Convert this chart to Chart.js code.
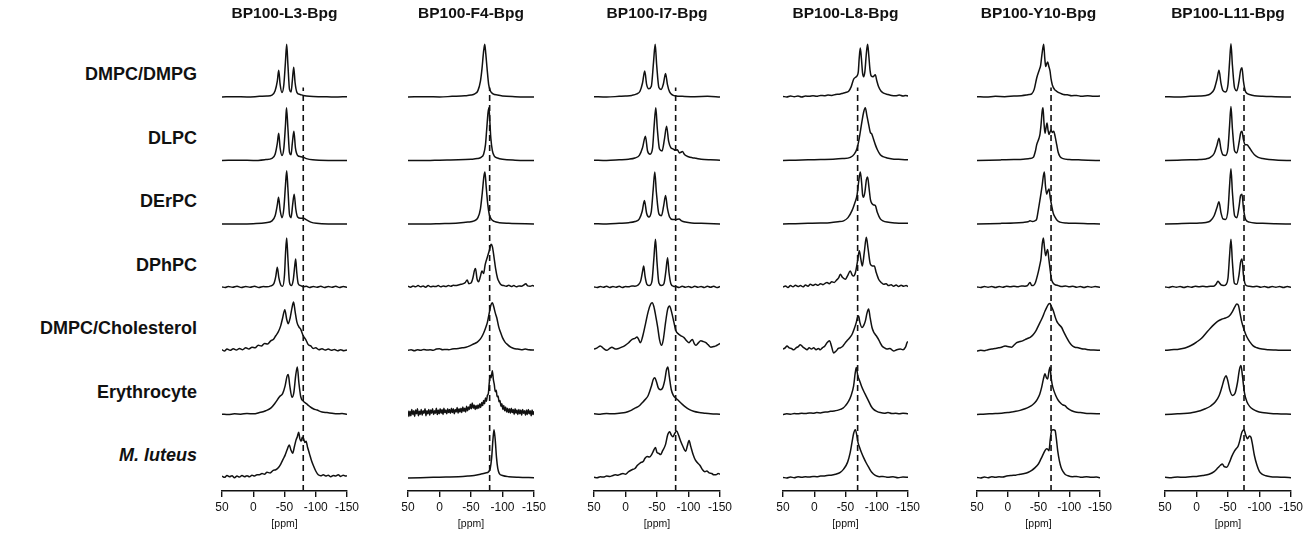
<!DOCTYPE html>
<html>
<head>
<meta charset="utf-8">
<script src="https://cdn.jsdelivr.net/npm/chart.js@4.4.1/dist/chart.umd.min.js"></script>
<style>
  body { margin: 0; background: #fff; font-family: "Liberation Sans", Arial, sans-serif; }
  #fig { position: relative; width: 1311px; height: 537px; overflow: hidden; background: #fff; }
  #fig canvas { position: absolute; top: 0; }
  .ttl { position: absolute; width: 160px; text-align: center; font-weight: bold; font-size: 15.5px; color: #111; }
  .lbl { position: absolute; right: 1114px; font-weight: bold; font-size: 18px; color: #111; white-space: nowrap; }
</style>
</head>
<body>
<div id="fig"></div>
<script>
// 패널 제목, 행 이름, 눈금
const titles = ['BP100-L3-Bpg', 'BP100-F4-Bpg', 'BP100-I7-Bpg', 'BP100-L8-Bpg', 'BP100-Y10-Bpg', 'BP100-L11-Bpg'];
const rowNames = ['DMPC/DMPG', 'DLPC', 'DErPC', 'DPhPC', 'DMPC/Cholesterol', 'Erythrocyte', 'M. luteus'];
const tickValues = [50, 0, -50, -100, -150];
// 점선 기준 위치 (ppm)
const refLine = [-80, -79.6, -79.6, -69.4, -70.4, -75.4];

// 스펙트럼: [ppm, 세기, ppm, 세기, ...] (세기 1 = 한 행 높이)
const specL3 = [
  [50,0, 30,0.005, 10,0, -10,0.01, -22,0.015, -30,0.03, -35,0.1, -38.5,0.25, -40.7,0.42, -43,0.2, -46,0.07, -49,0.2, -51.5,0.55, -53.5,0.83, -55.5,0.5, -58,0.12, -60.5,0.08, -62.5,0.25, -64.7,0.47, -67,0.22, -70,0.07, -75,0.04, -80,0.025, -90,0.01, -110,0.005, -130,0, -150,0.005],
  [50,0, 20,0.005, 0,0, -20,0.015, -30,0.035, -35,0.1, -38.5,0.27, -40.7,0.43, -43,0.2, -46,0.08, -49,0.2, -51.5,0.55, -53.2,0.83, -55.5,0.5, -58,0.13, -60.5,0.09, -62.5,0.27, -65,0.46, -67.5,0.2, -71,0.08, -76,0.06, -80,0.05, -85,0.03, -95,0.01, -120,0, -150,0],
  [50,0, 20,0, 0,0.005, -20,0.02, -30,0.05, -35,0.13, -38.5,0.3, -40.5,0.42, -43,0.22, -46,0.1, -49,0.25, -51.5,0.6, -53.5,0.84, -55.5,0.55, -58,0.15, -60.5,0.1, -63,0.3, -65.5,0.47, -68,0.24, -71,0.11, -76,0.09, -80,0.09, -86,0.06, -92,0.03, -101,0.01, -120,0, -150,0],
  [50,0.01, 45,0, 40,0.015, 33,0.005, 26,0.02, 19,0, 12,0.015, 5,0.005, -2,0.02, -9,0, -16,0.015, -22,0.01, -28,0.025, -33,0.06, -36,0.17, -38.5,0.32, -41,0.15, -44,0.04, -47,0.02, -50,0.2, -51.7,0.55, -53.5,0.78, -55.5,0.45, -58,0.08, -61,0.03, -64,0.12, -66.5,0.35, -67.9,0.45, -69.5,0.25, -72,0.06, -76,0.03, -80,0.01, -85,0.02, -90,0, -96,0.015, -102,0.005, -108,0.02, -114,0, -120,0.015, -126,0.005, -132,0.02, -138,0, -144,0.015, -150,0.005],
  [50,0.02, 46,0, 42,0.03, 37,0.01, 32,0.035, 27,0.015, 22,0.04, 17,0.02, 12,0.05, 7,0.03, 2,0.06, -3,0.05, -8,0.09, -13,0.08, -18,0.12, -23,0.11, -28,0.16, -32,0.18, -36,0.24, -40,0.3, -44,0.4, -47,0.52, -50.5,0.65, -53.5,0.5, -56,0.43, -59,0.52, -62,0.68, -64.5,0.77, -67,0.62, -70,0.45, -73,0.38, -76,0.34, -80,0.24, -84,0.18, -88,0.1, -92,0.08, -96,0.04, -100,0.05, -105,0.02, -110,0.035, -115,0.015, -120,0.03, -125,0.01, -130,0.025, -135,0.005, -140,0.02, -145,0.005, -150,0.015],
  [50,0.005, 40,0, 30,0.01, 20,0.005, 10,0.015, 0,0.01, -10,0.03, -20,0.06, -28,0.1, -35,0.18, -42,0.28, -47,0.33, -51,0.45, -54,0.6, -56,0.63, -58.5,0.45, -62,0.27, -65,0.35, -68,0.62, -70.5,0.75, -73,0.5, -76,0.28, -80,0.21, -85,0.17, -90,0.13, -96,0.09, -102,0.07, -110,0.04, -118,0.03, -126,0.02, -134,0.01, -142,0.015, -150,0.005],
  [50,0.03, 46,0.01, 42,0.04, 38,0.02, 34,0.035, 30,0.005, 26,0.03, 22,0.015, 18,0.04, 14,0.02, 10,0.035, 6,0.02, 2,0.045, -2,0.03, -6,0.05, -10,0.05, -14,0.07, -18,0.06, -22,0.09, -27,0.08, -32,0.12, -36,0.13, -40,0.16, -44,0.22, -48,0.3, -51,0.36, -54,0.44, -57.7,0.52, -60,0.45, -63,0.39, -66,0.5, -68.5,0.6, -70.5,0.65, -72.7,0.72, -74.5,0.62, -76.5,0.58, -78.5,0.64, -80.5,0.62, -82.5,0.56, -84.5,0.58, -87,0.48, -90,0.38, -93,0.28, -96,0.2, -100,0.11, -104,0.05, -108,0.035, -112,0.05, -116,0.03, -120,0.045, -124,0.02, -128,0.04, -132,0.03, -136,0.05, -140,0.025, -144,0.045, -148,0.03, -150,0.035]
];

const specF4 = [
  [50,0, 20,0.005, 0,0, -20,0.01, -40,0.02, -50,0.03, -56,0.05, -61,0.1, -65,0.25, -67.5,0.45, -69.8,0.7, -71.8,0.83, -73.5,0.68, -75.5,0.45, -78,0.2, -81,0.09, -85,0.05, -92,0.03, -100,0.015, -120,0.005, -150,0],
  [50,0, 20,0, 0,0.005, -30,0.01, -50,0.02, -60,0.03, -66,0.05, -70,0.1, -73,0.25, -75,0.5, -77,0.75, -78.5,0.83, -80,0.6, -81.5,0.35, -84,0.15, -87,0.07, -92,0.04, -100,0.02, -120,0.005, -150,0],
  [50,0, 20,0, 0,0.005, -30,0.015, -45,0.03, -55,0.05, -61,0.1, -65,0.24, -68,0.5, -70.5,0.75, -72.1,0.82, -74,0.6, -76.5,0.32, -79,0.15, -82,0.08, -87,0.04, -95,0.02, -110,0.01, -150,0],
  [50,0.02, 46,0.005, 42,0.025, 38,0.01, 34,0.03, 30,0.01, 26,0.025, 22,0.005, 18,0.03, 14,0.01, 10,0.02, 6,0.015, 2,0.03, -2,0.01, -6,0.025, -10,0.015, -14,0.03, -18,0.02, -22,0.035, -26,0.03, -30,0.04, -34,0.05, -38,0.06, -41,0.08, -43.9,0.12, -46.5,0.06, -50,0.07, -53,0.15, -55.5,0.27, -57.2,0.3, -59.5,0.14, -62,0.09, -64.5,0.16, -67.5,0.26, -70,0.22, -72.5,0.36, -76,0.48, -79,0.58, -82,0.68, -84,0.64, -86.5,0.48, -89,0.3, -92,0.15, -95,0.08, -98,0.04, -102,0.03, -106,0.02, -110,0.035, -114,0.015, -118,0.03, -122,0.01, -126,0.025, -130,0.02, -134,0.04, -137,0.06, -140,0.025, -144,0.02, -148,0.03, -150,0.02],
  [50,0.01, 45,0.02, 40,0.005, 35,0.02, 30,0.01, 25,0.025, 20,0.015, 15,0.02, 10,0.01, 5,0.03, 0,0.035, -5,0.02, -10,0.025, -15,0.02, -20,0.03, -25,0.035, -30,0.04, -36,0.05, -42,0.06, -48,0.08, -54,0.11, -60,0.14, -65,0.19, -69,0.26, -73,0.36, -76,0.45, -79,0.6, -81.5,0.72, -83.9,0.76, -86,0.7, -88.5,0.6, -91,0.52, -94,0.38, -97,0.29, -100,0.21, -104,0.14, -108,0.1, -113,0.06, -118,0.04, -124,0.03, -130,0.02, -136,0.03, -142,0.02, -150,0.015],
  [50,0.06, 48.5,-0.03, 47,0.05, 45.5,-0.02, 44,0.08, 42.5,0, 41,0.06, 39.5,-0.03, 38,0.07, 36.5,0.01, 35,0.09, 33.5,-0.02, 32,0.05, 30.5,0, 29,0.08, 27.5,-0.01, 26,0.06, 24.5,0.02, 23,0.09, 21.5,-0.02, 20,0.06, 18.5,0.01, 17,0.08, 15.5,-0.01, 14,0.07, 12.5,0.02, 11,0.09, 9.5,0, 8,0.06, 6.5,0.02, 5,0.1, 3.5,0, 2,0.07, 0.5,0.01, -1,0.09, -2.5,0.02, -4,0.08, -5.5,0, -7,0.1, -8.5,0.03, -10,0.07, -11.5,0.01, -13,0.09, -14.5,0.03, -16,0.08, -17.5,0.02, -19,0.1, -20.5,0.03, -22,0.09, -23.5,0.01, -25,0.08, -26.5,0.04, -28,0.11, -29.5,0.02, -31,0.09, -32.5,0.04, -34,0.1, -35.5,0.03, -37,0.12, -38.5,0.05, -40,0.1, -41.5,0.04, -43,0.13, -44.5,0.06, -46,0.12, -47.5,0.08, -49,0.16, -50.5,0.09, -52,0.18, -53.5,0.1, -55,0.15, -56.5,0.08, -58,0.14, -59.5,0.09, -61,0.15, -62.5,0.1, -64,0.17, -65.5,0.11, -67,0.19, -68.5,0.14, -70,0.22, -71.5,0.17, -73,0.26, -74.5,0.21, -76,0.3, -77.5,0.33, -79,0.5, -80.5,0.62, -82,0.58, -83.9,0.69, -85.5,0.55, -87,0.47, -88.5,0.36, -90,0.38, -91.5,0.28, -93,0.29, -94.5,0.2, -96,0.22, -97.5,0.13, -99,0.17, -100.5,0.08, -102,0.14, -103.5,0.06, -105,0.12, -106.5,0.04, -108,0.1, -109.5,0.03, -111,0.09, -112.5,0.02, -114,0.1, -115.5,0.03, -117,0.08, -118.5,0, -120,0.09, -121.5,0.02, -123,0.07, -124.5,0, -126,0.08, -127.5,0.01, -129,0.07, -130.5,-0.01, -132,0.08, -133.5,0.02, -135,0.06, -136.5,-0.01, -138,0.07, -139.5,0, -141,0.08, -142.5,0.01, -144,0.06, -145.5,-0.02, -147,0.07, -148.5,0, -150,0.05],
  [50,0, 30,0.005, 10,0.01, -10,0.015, -30,0.02, -45,0.03, -55,0.04, -65,0.06, -73,0.08, -78,0.1, -80.5,0.15, -82.8,0.32, -84.8,0.6, -86.5,0.76, -88.3,0.62, -90.5,0.32, -92.5,0.15, -95,0.07, -100,0.04, -110,0.02, -125,0.01, -150,0.005]
];

const specI7 = [
  [50,0.005, 30,0, 10,0.01, 0,0.015, -10,0.025, -18,0.05, -23,0.09, -27,0.22, -30.5,0.41, -33.5,0.2, -37,0.13, -41,0.17, -44.5,0.55, -47.1,0.83, -49.5,0.5, -53,0.15, -56.5,0.12, -60,0.2, -63.6,0.37, -66.5,0.2, -70,0.08, -75,0.03, -80,0.015, -90,0.01, -110,0.005, -130,0.01, -150,0],
  [50,0.005, 30,0, 10,0.01, -5,0.02, -15,0.04, -22,0.08, -27,0.2, -31.6,0.38, -35,0.15, -39,0.1, -43,0.2, -45.5,0.55, -48.1,0.83, -50.5,0.5, -54,0.18, -58,0.15, -62,0.35, -65.2,0.54, -68.5,0.3, -72,0.2, -76,0.18, -79,0.16, -82.3,0.17, -85.5,0.12, -88,0.13, -90.3,0.14, -94,0.09, -100,0.06, -106,0.045, -112,0.035, -120,0.02, -135,0.01, -150,0.005],
  [50,0.005, 30,0, 10,0.01, -5,0.02, -15,0.04, -22,0.08, -26.5,0.2, -30,0.37, -33.5,0.17, -37,0.11, -41,0.2, -44,0.55, -46.5,0.82, -49,0.5, -53,0.16, -57,0.13, -60.5,0.28, -63.6,0.45, -66.5,0.25, -70,0.11, -75,0.07, -80,0.07, -85,0.08, -89,0.05, -95,0.03, -105,0.015, -120,0.01, -150,0],
  [50,0.01, 45,0, 40,0.015, 35,0.005, 30,0.02, 25,0, 20,0.015, 15,0.005, 10,0.02, 5,0, 0,0.015, -5,0.01, -10,0.025, -15,0.02, -20,0.04, -24,0.1, -27,0.25, -28.9,0.34, -31,0.18, -34,0.05, -38,0.03, -42,0.1, -45,0.45, -47.6,0.76, -50,0.4, -53,0.07, -57,0.03, -61,0.06, -64,0.25, -66.8,0.47, -69,0.24, -72,0.06, -76,0.02, -80,0.015, -85,0, -90,0.02, -95,0.005, -100,0.015, -105,0, -110,0.02, -115,0.005, -120,0.015, -125,0, -130,0.02, -135,0.005, -140,0.02, -145,0, -150,0.015],
  [50,0.03, 45,0.05, 40,0.08, 35,0.04, 30,0.01, 25,0.04, 21.7,0.06, 16,0.03, 11,0.04, 6,0.06, 0.4,0.09, -5,0.13, -10,0.18, -15,0.2, -18.3,0.22, -21,0.18, -23.6,0.13, -27,0.22, -31.6,0.42, -36,0.62, -40,0.74, -42.3,0.76, -45,0.7, -48,0.55, -51,0.38, -54,0.18, -57.2,0.09, -60,0.18, -63.6,0.45, -67,0.66, -70,0.71, -73,0.62, -76.9,0.45, -80,0.32, -83.9,0.27, -88,0.24, -92.9,0.21, -97,0.16, -100.9,0.13, -103.5,0.16, -106.3,0.18, -109,0.12, -111.6,0.09, -115,0.12, -119.6,0.16, -123,0.15, -127.6,0.13, -131,0.1, -135.6,0.06, -140,0.07, -143.6,0.08, -147,0.1, -150,0.12],
  [50,0.01, 40,0.005, 30,0.015, 20,0.01, 10,0.02, 0.4,0.03, -8,0.06, -15,0.1, -20.9,0.13, -26,0.18, -31.6,0.24, -36,0.3, -41.2,0.45, -44,0.55, -46.5,0.58, -49,0.52, -52,0.42, -55.6,0.39, -59,0.42, -62.5,0.55, -65,0.7, -67.3,0.75, -69.5,0.6, -72.7,0.39, -76,0.3, -79.6,0.26, -84,0.22, -90.3,0.16, -95,0.12, -100.9,0.08, -108,0.05, -116.9,0.03, -125,0.02, -135,0.01, -150,0.005],
  [50,0.01, 45,0.005, 40,0.02, 35,0.015, 30,0.03, 25,0.025, 20,0.04, 16.4,0.05, 12,0.045, 8,0.06, 4,0.07, 0,0.06, -5,0.1, -10.3,0.13, -15,0.15, -19,0.2, -23.6,0.24, -28,0.26, -31,0.31, -34.3,0.34, -38,0.33, -41,0.36, -44,0.42, -47.6,0.48, -50,0.4, -52.5,0.39, -55.6,0.37, -59,0.43, -63.6,0.53, -67,0.68, -70,0.73, -72.5,0.68, -75.3,0.65, -78,0.7, -81.2,0.74, -84,0.68, -87.6,0.58, -91,0.5, -95.6,0.42, -98,0.5, -100.9,0.59, -103.5,0.5, -107.3,0.37, -111,0.28, -114.3,0.24, -118,0.2, -122.3,0.13, -126,0.1, -129,0.11, -132.9,0.08, -137,0.07, -140,0.05, -143.6,0.05, -147,0.07, -150,0.06]
];

const specL8 = [
  [50,0.01, 44,0, 38,0.015, 32,0.005, 26,0.015, 20,0, 14,0.015, 8,0.01, 2,0.02, -4,0.01, -10,0.025, -16,0.02, -22,0.03, -28,0.025, -34,0.04, -40,0.045, -46,0.06, -50,0.07, -55,0.09, -59,0.16, -63,0.28, -66,0.31, -68.4,0.33, -70.5,0.4, -72,0.62, -73.7,0.77, -75.5,0.6, -77.3,0.38, -79,0.32, -81,0.4, -83.5,0.7, -85.4,0.83, -87.3,0.65, -89.3,0.42, -91.3,0.33, -94,0.32, -97.7,0.35, -100,0.26, -103,0.16, -107,0.09, -111,0.06, -118,0.04, -124,0.025, -130,0.02, -136,0.03, -142,0.015, -146,0.025, -150,0.015],
  [50,0, 30,0.005, 10,0.01, -10,0.015, -30,0.02, -45,0.03, -57.7,0.05, -64,0.1, -68.4,0.19, -72,0.35, -76.4,0.62, -79,0.76, -81.7,0.83, -84,0.72, -87,0.57, -89.5,0.45, -92.4,0.41, -95,0.33, -97.7,0.25, -101,0.17, -105.7,0.09, -110,0.06, -116.4,0.04, -125,0.025, -135,0.02, -150,0.01],
  [50,0, 30,0.005, 10,0.01, -10,0.015, -25,0.02, -38,0.035, -47,0.05, -54,0.1, -60.4,0.21, -64.5,0.32, -68.4,0.45, -71.5,0.7, -73.7,0.82, -75.8,0.65, -77.5,0.45, -79,0.42, -81,0.5, -83.5,0.7, -85.4,0.74, -87.5,0.58, -90,0.38, -92.4,0.32, -95,0.3, -97.7,0.29, -101,0.18, -105.7,0.08, -110,0.05, -116.4,0.03, -130,0.015, -150,0.01],
  [50,0.005, 46,0.025, 42,0, 38,0.03, 34,0.01, 30,0.035, 26,0.015, 22,0.03, 18,0.01, 14,0.04, 10,0.02, 6.3,0.05, 2,0.03, -2,0.05, -6,0.035, -10,0.06, -14,0.045, -18,0.07, -20.4,0.08, -24,0.06, -28,0.09, -32,0.08, -36,0.12, -39,0.15, -41.7,0.21, -45,0.16, -49.7,0.13, -53,0.18, -57.7,0.26, -60.5,0.2, -63,0.18, -66,0.24, -69,0.4, -72.1,0.58, -74.5,0.45, -76.9,0.34, -80,0.55, -83.3,0.79, -86,0.62, -89.7,0.37, -93,0.34, -96.1,0.34, -99,0.24, -103,0.13, -107,0.08, -111,0.05, -115,0.06, -119,0.03, -123,0.045, -127,0.02, -131,0.04, -135,0.015, -139,0.035, -143,0.02, -147,0.03, -150,0.015],
  [50,0.03, 46.5,0.05, 43.6,0.08, 40,0.05, 36.5,0.04, 33,0.02, 29,0.05, 25.5,0.07, 22.3,0.1, 18,0.06, 15,0.04, 11.6,0.02, 8,0.05, 4.5,0.03, 1,0.05, -3,0.02, -6.5,0.04, -9.7,0.02, -13,0.05, -17,0.08, -20.4,0.13, -24.6,0.16, -27.5,0.08, -31,-0.03, -35,0, -38.5,0.04, -41.7,0.05, -46,0.08, -49,0.12, -52.4,0.16, -56,0.2, -60.4,0.26, -64,0.35, -67.3,0.45, -69.5,0.54, -71,0.55, -73,0.45, -76.4,0.37, -79,0.4, -81.7,0.47, -84.5,0.6, -87,0.66, -89.5,0.52, -92.4,0.37, -95,0.3, -97.7,0.26, -100.5,0.22, -103,0.18, -106,0.12, -108.4,0.08, -112,0.05, -116.4,0.03, -121,0.04, -127,0, -132,0.02, -137.7,0.03, -142,0.02, -146,0.06, -148.4,0.13, -150,0.15],
  [50,0, 44,0.01, 38,0.005, 32,0.015, 26,0.01, 20,0.02, 14,0.015, 8,0.025, 2,0.02, -4,0.03, -10,0.025, -15,0.035, -20.4,0.04, -26,0.05, -32,0.055, -37,0.065, -41.7,0.08, -46,0.1, -50,0.14, -55,0.21, -59,0.3, -63,0.45, -65.5,0.65, -67.3,0.74, -69.5,0.62, -72.6,0.53, -75.5,0.45, -79,0.37, -83,0.29, -87,0.21, -91,0.13, -95,0.08, -100,0.05, -105.7,0.03, -112,0.02, -118,0.03, -124,0.015, -130,0.02, -136,0.01, -142,0.02, -150,0.01],
  [50,0.01, 44,0, 38,0.015, 32,0.005, 26,0.02, 20,0.01, 14,0.02, 8,0.015, 2,0.025, -4,0.02, -10,0.03, -15,0.03, -20.4,0.04, -27,0.045, -34,0.06, -41.7,0.09, -47,0.14, -53.4,0.25, -57.5,0.4, -60.4,0.56, -63,0.7, -65.7,0.76, -68,0.68, -70,0.56, -72.6,0.48, -75.5,0.4, -79,0.32, -83,0.24, -87,0.17, -92,0.09, -97.7,0.04, -104,0.02, -110,0.025, -118,0.01, -126,0.02, -134,0.005, -142,0.015, -150,0.01]
];

const specY10 = [
  [50,0.005, 35,0, 20,0.01, 5,0.005, -10,0.015, -22,0.02, -30,0.03, -35,0.04, -38.9,0.05, -43,0.12, -47.1,0.3, -51.4,0.43, -53.5,0.5, -55.5,0.66, -58.4,0.83, -60.3,0.6, -61.7,0.48, -63.3,0.52, -64.9,0.55, -66.8,0.48, -68.7,0.41, -70.5,0.28, -72.5,0.19, -76,0.12, -79.6,0.09, -85,0.06, -90.4,0.04, -97,0.035, -104,0.02, -112,0.025, -120,0.01, -130,0.02, -140,0.01, -150,0.015],
  [50,0, 30,0.005, 10,0.01, -10,0.015, -25,0.02, -35,0.03, -41.6,0.05, -45,0.15, -47.1,0.25, -50.8,0.35, -52.5,0.42, -54.1,0.56, -56,0.78, -57.3,0.83, -59,0.58, -60.6,0.43, -62.3,0.52, -63.9,0.59, -65.5,0.48, -67.1,0.41, -68.8,0.45, -70.4,0.48, -72.5,0.44, -74.7,0.46, -77,0.38, -79.6,0.25, -82,0.13, -85,0.06, -90,0.03, -100,0.015, -115,0.01, -130,0.005, -150,0],
  [50,0, 30,0.005, 10,0.01, -10,0.015, -25,0.025, -33,0.035, -36.2,0.05, -40,0.04, -44,0.05, -47.1,0.08, -49,0.18, -51.4,0.32, -54,0.48, -56.3,0.63, -57.8,0.75, -59.5,0.82, -61.3,0.6, -63.3,0.47, -65.2,0.52, -67.1,0.55, -69,0.42, -71.4,0.29, -74,0.17, -76.9,0.11, -81,0.05, -85,0.03, -95,0.015, -110,0.01, -130,0.005, -150,0],
  [50,0.01, 44,0, 38,0.015, 32,0.005, 26,0.015, 20,0, 14,0.015, 8,0.005, 2,0.02, -4,0.01, -10,0.02, -16,0.01, -22,0.025, -28,0.02, -32,0.03, -36.2,0.08, -39,0.03, -41.6,0.03, -45,0.08, -49.8,0.25, -52,0.35, -54.1,0.46, -56,0.68, -57.9,0.78, -59.8,0.62, -61.7,0.5, -63.3,0.56, -64.9,0.6, -66.8,0.45, -68.7,0.3, -70.5,0.16, -72.5,0.09, -76,0.05, -82.3,0.03, -88,0.015, -94,0.025, -100,0.01, -106,0.02, -112,0.005, -118,0.015, -124,0, -130,0.015, -136,0.005, -142,0.015, -150,0.005],
  [50,0, 44,0.01, 38,0.005, 32,0.02, 26,0.03, 20.7,0.04, 15,0.05, 10,0.06, 4.4,0.08, 0,0.07, -6.4,0.06, -10,0.09, -14.5,0.13, -20,0.15, -24,0.16, -28.1,0.18, -33,0.2, -37,0.22, -41.6,0.26, -46,0.32, -49,0.38, -52.5,0.45, -56,0.52, -60.6,0.63, -64,0.7, -66.5,0.74, -68.7,0.75, -71,0.7, -74.2,0.63, -77,0.54, -79.6,0.47, -83,0.42, -87.7,0.37, -91,0.3, -95.8,0.21, -100,0.14, -104,0.09, -109,0.06, -114.8,0.05, -120,0.035, -125.6,0.03, -132,0.02, -140,0.015, -150,0.01],
  [50,0, 40,0.005, 30,0.01, 20,0.015, 10,0.02, 0,0.03, -6.4,0.04, -13,0.05, -20,0.065, -28.1,0.09, -35,0.12, -40,0.15, -44.3,0.19, -48,0.24, -52,0.32, -55.2,0.43, -58,0.56, -60.6,0.64, -62.8,0.58, -64.9,0.56, -67,0.68, -68.7,0.75, -70.5,0.58, -72.3,0.47, -74.2,0.4, -78,0.3, -82.3,0.22, -87,0.17, -90,0.15, -93.1,0.14, -97,0.1, -100,0.08, -104,0.06, -110,0.04, -118,0.03, -125.6,0.02, -135,0.015, -150,0.01],
  [50,0.01, 44,0, 38,0.015, 32,0.005, 26,0.02, 20,0.01, 14,0.02, 8,0.015, 2,0.03, -6.4,0.04, -13,0.045, -20,0.06, -27,0.07, -33.5,0.09, -39,0.12, -44,0.16, -49.8,0.22, -54,0.3, -57.9,0.38, -61,0.44, -63.3,0.46, -65.3,0.45, -67.1,0.43, -69,0.6, -71.4,0.75, -74,0.76, -76.9,0.75, -79,0.62, -81.2,0.43, -84,0.27, -86.6,0.17, -90,0.1, -93.1,0.06, -98,0.035, -105,0.02, -112,0.025, -120,0.01, -128,0.02, -136,0.01, -144,0.015, -150,0.005]
];

const specL11 = [
  [50,0.005, 30,0, 10,0.01, -5,0.015, -15,0.025, -22,0.05, -28,0.12, -32.5,0.28, -35.7,0.42, -38.8,0.22, -42,0.1, -46,0.08, -50,0.2, -52.5,0.55, -54.7,0.84, -57,0.5, -60.5,0.14, -64,0.1, -67.5,0.25, -70,0.42, -72.2,0.46, -74.5,0.25, -78,0.08, -84,0.04, -92,0.02, -105,0.01, -125,0.005, -150,0],
  [50,0, 30,0.005, 10,0.01, -5,0.015, -15,0.025, -22,0.05, -28,0.11, -32.5,0.24, -35.7,0.35, -38.8,0.18, -42,0.09, -46,0.08, -50,0.2, -52.5,0.55, -54.7,0.85, -57,0.5, -60.5,0.15, -64,0.12, -67.5,0.28, -70,0.43, -72.2,0.46, -74.5,0.33, -77,0.25, -80,0.25, -84,0.2, -88,0.14, -92,0.09, -98,0.05, -105,0.03, -115,0.015, -130,0.005, -150,0],
  [50,0, 30,0.005, 10,0.01, -5,0.015, -15,0.025, -22,0.05, -28,0.13, -32.5,0.26, -35.7,0.35, -38.8,0.18, -42,0.08, -46,0.07, -50,0.22, -52.5,0.6, -54.7,0.87, -57,0.5, -60.5,0.13, -64,0.1, -67.5,0.27, -70,0.45, -72.2,0.47, -74.5,0.25, -78,0.07, -84,0.03, -92,0.015, -105,0.01, -125,0.005, -150,0],
  [50,0.01, 44,0, 38,0.015, 32,0.005, 26,0.015, 20,0, 14,0.015, 8,0.005, 2,0.02, -4,0.01, -10,0.02, -16,0.01, -22,0.02, -27,0.02, -31,0.05, -34,0.1, -36,0.08, -39,0.04, -43,0.03, -47,0.05, -50,0.15, -52.5,0.5, -54.7,0.76, -57,0.4, -60,0.07, -64,0.05, -67.5,0.2, -70,0.4, -72.2,0.45, -74.5,0.2, -78,0.04, -84,0.02, -90,0.01, -96,0.02, -102,0.005, -108,0.015, -114,0, -120,0.015, -126,0.005, -132,0.015, -138,0, -144,0.015, -150,0.005],
  [50,0.01, 40,0.02, 30,0.025, 22,0.04, 15,0.06, 8,0.09, 0,0.14, -8,0.2, -15,0.28, -22,0.36, -28,0.42, -34,0.47, -40,0.5, -46,0.52, -52,0.55, -57,0.62, -61,0.7, -64,0.74, -66.5,0.72, -69,0.6, -72,0.45, -76,0.32, -80,0.22, -85,0.14, -90,0.08, -96,0.05, -104,0.03, -114,0.02, -126,0.015, -138,0.01, -150,0.01],
  [50,0, 40,0.005, 30,0.01, 20,0.015, 10,0.025, 2,0.04, -6,0.06, -14,0.09, -22,0.13, -30,0.2, -36,0.3, -40,0.42, -44,0.56, -46.8,0.61, -49.5,0.54, -53,0.38, -57,0.3, -61,0.33, -65,0.5, -68,0.7, -70.6,0.77, -73,0.6, -76,0.35, -80,0.2, -85,0.12, -90,0.08, -96,0.05, -104,0.03, -114,0.02, -128,0.01, -150,0.005],
  [50,0.01, 40,0.005, 30,0.015, 20,0.01, 10,0.02, 0,0.025, -10,0.04, -20,0.06, -28,0.1, -34,0.16, -38,0.2, -41,0.22, -44,0.18, -48,0.17, -52,0.24, -56,0.34, -60,0.42, -63,0.46, -66,0.5, -69,0.6, -72,0.72, -75.4,0.76, -78,0.68, -81,0.62, -84,0.66, -86.5,0.64, -89,0.52, -92,0.35, -96,0.2, -100,0.1, -104,0.06, -110,0.035, -118,0.02, -128,0.015, -140,0.01, -150,0.005]
];

const spectra = [specL3, specF4, specI7, specL8, specY10, specL11];

// 배치 (픽셀)
const panelX = [[222, 347], [408, 534], [594, 720], [783, 908], [977, 1100], [1165, 1291]];
const axisY = 491, firstBase = 97, rowPx = 63.5, topPad = 10, canvasH = 533;
const fontFam = '"Liberation Sans", Arial, sans-serif';
const ink = '#111';

function rowBase(r) {
  return (axisY - (firstBase + rowPx * r)) / rowPx;
}

function toPoints(flat, base) {
  const pts = [];
  for (let i = 0; i < flat.length; i += 2) {
    pts.push({ x: flat[i], y: flat[i + 1] + base });
  }
  return pts;
}

const fig = document.getElementById('fig');

function buildPanel(ci) {
  const [x0, x1] = panelX[ci];
  const padL = 22, padR = 24;
  const cv = document.createElement('canvas');
  cv.width = x1 - x0 + padL + padR;
  cv.height = canvasH;
  cv.style.left = (x0 - padL) + 'px';
  fig.appendChild(cv);

  const datasets = spectra[ci].map((flat, r) => ({
    data: toPoints(flat, rowBase(r)),
    borderColor: ink,
    borderWidth: 1.5,
    pointRadius: 0,
    cubicInterpolationMode: 'monotone',
    fill: false
  }));
  datasets.push({
    data: [{ x: refLine[ci], y: 0 }, { x: refLine[ci], y: rowBase(0) + 0.15 }],
    borderColor: ink,
    borderWidth: 1.6,
    borderDash: [6, 4],
    pointRadius: 0,
    fill: false
  });

  new Chart(cv, {
    type: 'line',
    data: { datasets },
    options: {
      responsive: false,
      animation: false,
      devicePixelRatio: 1,
      layout: { padding: { left: padL, right: padR, top: topPad, bottom: 0 } },
      plugins: { legend: { display: false }, tooltip: { enabled: false } },
      scales: {
        x: {
          type: 'linear',
          reverse: true,
          min: -150,
          max: 50,
          afterBuildTicks: s => { s.ticks = tickValues.map(v => ({ value: v })); },
          afterFit: s => { s.height = canvasH - axisY; },
          grid: { drawOnChartArea: false, drawTicks: true, tickLength: 6, color: ink, lineWidth: 1.4 },
          border: { display: true, color: ink, width: 1.6 },
          ticks: { color: ink, font: { size: 12, family: fontFam }, padding: 3, maxRotation: 0, autoSkip: false },
          title: { display: true, text: '[ppm]', color: ink, font: { size: 10.5, family: fontFam }, padding: { top: 1, bottom: 3 } }
        },
        y: { display: false, min: 0, max: (axisY - topPad) / rowPx }
      }
    }
  });

  const t = document.createElement('div');
  t.className = 'ttl';
  t.textContent = titles[ci];
  t.style.left = ((x0 + x1) / 2 - 80) + 'px';
  t.style.top = '4px';
  fig.appendChild(t);
}

for (let ci = 0; ci < spectra.length; ci++) buildPanel(ci);

// 행 이름
rowNames.forEach((name, r) => {
  const d = document.createElement('div');
  d.className = 'lbl';
  d.textContent = name;
  if (name === 'M. luteus') d.style.fontStyle = 'italic';
  d.style.top = (firstBase + rowPx * r - 33) + 'px';
  fig.appendChild(d);
});
</script>
</body>
</html>
